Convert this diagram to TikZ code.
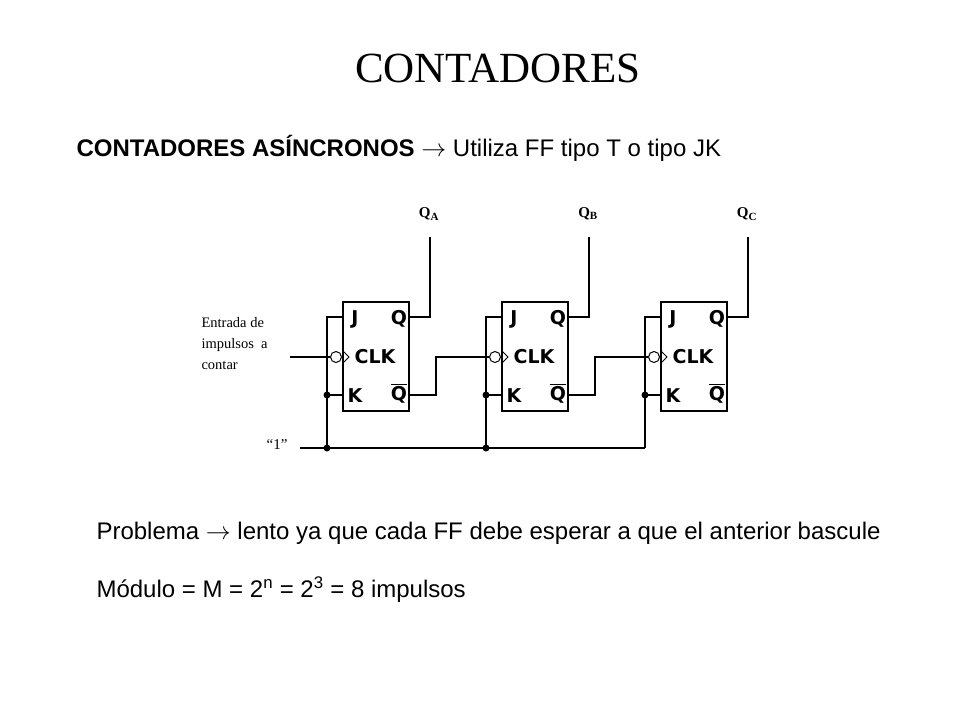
\documentclass[tikz,border=0pt]{standalone}
\usepackage{fontspec}
\setmainfont{Liberation Serif}
\newfontfamily\arial{Liberation Sans}
\newfontfamily\djv{DejaVu Sans}
\begin{document}
\begin{tikzpicture}[x=1pt,y=-1pt,
  ff/.style={draw,line width=1.2pt,minimum width=66pt,minimum height=109pt,inner sep=0pt},
  pin/.style={font=\djv\bfseries\fontsize{19}{19}\selectfont,inner sep=0pt},
  dot/.style={circle,fill,inner sep=0pt,minimum size=7pt},
  w/.style={line width=1.2pt}]
\useasboundingbox (0,0) rectangle (960,720);
\node[font=\fontsize{43}{43}\selectfont] (title) at (498,68) {CONTADORES};
\node[anchor=west,font=\arial\fontsize{24}{24}\selectfont] (sub) at (73,148) {\textbf{CONTADORES ASÍNCRONOS} $\rightarrow$ Utiliza FF tipo T o tipo JK};
\foreach \i/\x/\l in {1/376/A,2/535/B,3/694/C}{
  \node[ff] (f\i) at (\x,356.5) {};
  \node[pin,anchor=base] (j\i) at (\x-21,324) {J};
  \node[pin,anchor=base] (q\i) at (\x+23,324) {Q};
  \node[pin,anchor=base] (c\i) at (\x-1,363) {CLK};
  \node[pin,anchor=base] (k\i) at (\x-21,402) {K};
  \node[pin,anchor=base] (nq\i) at (\x+23,400) {$\overline{\hbox{Q}}$};
  \node[circle,draw,line width=1pt,inner sep=0pt,minimum size=11pt] (b\i) at (\x-40,357) {};
  \draw[line width=1pt] (\x-33,351) -- (\x-27,357) -- (\x-33,363);
  \coordinate (L\i) at (\x-49,317);
  \coordinate (KL\i) at (\x-49,395);
  \coordinate (BL\i) at (\x-49,448);
  \draw[w] (\x-33,317) -- (L\i) -- (BL\i);
  \draw[w] (\x-33,395) -- (KL\i);
  \node[dot] (dk\i) at (KL\i) {};
  \coordinate (top\i) at (\x+54,237);
  \draw[w] (\x+33,357-40) -| (top\i);
  \node[font=\bfseries\fontsize{15}{15}\selectfont] (lab\i) at (\x+53,214) {Q$_{\mbox{\fontsize{11}{11}\selectfont\bfseries\l}}$};
}
\node[dot] (d1) at (BL1) {};
\node[dot] (d2) at (BL2) {};
\coordinate (bs) at (300,448);
\draw[w] (bs) -- (BL3);
\node[anchor=east,font=\fontsize{15}{15}\selectfont] (one) at (291,444) {``1''};
\coordinate (in) at (290,357);
\draw[w] (in) -- (b1.west);
\draw[w] (409,395) -- (436,395) |- (b2.west);
\draw[w] (568,395) -- (595,395) |- (b3.west);
\node[anchor=west,align=left,font=\fontsize{14.5}{21}\selectfont] (ent) at (198,344) {Entrada de\\impulsos \ a\\contar};
\node[anchor=west,font=\arial\fontsize{24}{24}\selectfont] (p) at (93,533) {Problema $\rightarrow$ lento ya que cada FF debe esperar a que el anterior bascule};
\node[anchor=west,font=\arial\fontsize{24}{24}\selectfont] (m) at (93,590) {Módulo = M = 2\textsuperscript{n} = 2\textsuperscript{3} = 8 impulsos};
\end{tikzpicture}
\end{document}
